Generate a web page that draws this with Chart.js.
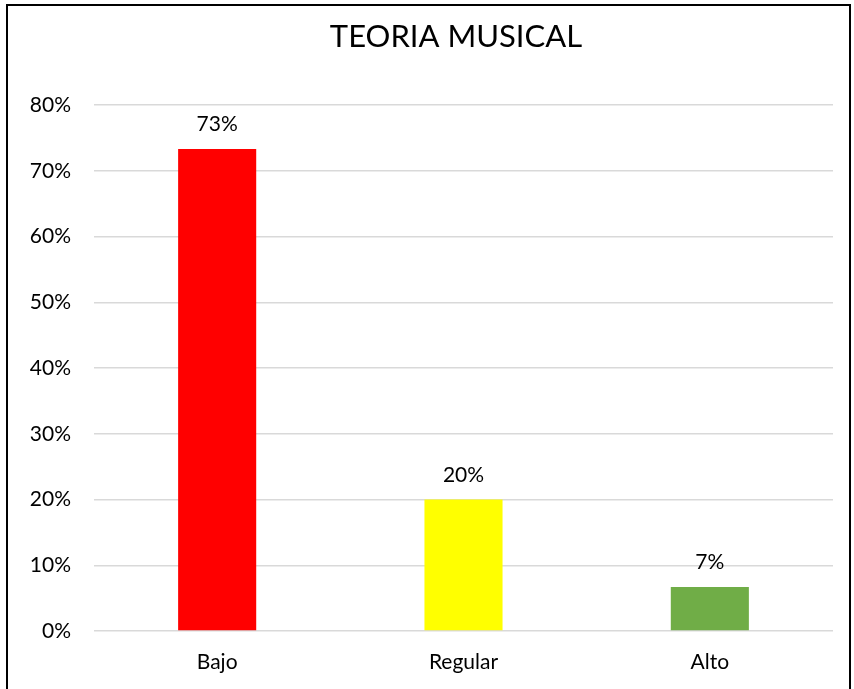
<!DOCTYPE html>
<html>
<head>
<meta charset="utf-8">
<script src="https://cdn.jsdelivr.net/npm/chart.js@4.4.1/dist/chart.umd.min.js"></script>
<style>
  html, body { margin: 0; padding: 0; background: #fff; }
  #wrap { width: 854px; height: 689px; position: relative; }
</style>
</head>
<body>
<div id="wrap"><canvas id="myChart"></canvas></div>
<script>
// data
var chartTitle = "TEORIA MUSICAL";
var categories = ["Bajo", "Regular", "Alto"];
var values = [0.733, 0.20, 0.067];
var barColors = ["#FF0000", "#FFFF00", "#70AD47"];
var yTicks = [0, 0.1, 0.2, 0.3, 0.4, 0.5, 0.6, 0.7, 0.8];

var FONT = "Lato, 'Liberation Sans', sans-serif";

// title, centred a bit right of the canvas middle like the original
var titlePlugin = {
    id: "titlePlugin",
    afterDraw: function(chart) {
        var ctx = chart.ctx;
        ctx.save();
        ctx.font = "31px " + FONT;
        ctx.fillStyle = "#000";
        ctx.textAlign = "center";
        ctx.textBaseline = "alphabetic";
        ctx.fillText(chartTitle, 456, 47);
        ctx.restore();
    }
};

// value labels above each bar
var valueLabels = {
    id: "valueLabels",
    afterDatasetsDraw: function(chart) {
        var ctx = chart.ctx;
        var meta = chart.getDatasetMeta(0);
        ctx.save();
        ctx.font = "21px " + FONT;
        ctx.fillStyle = "#000";
        ctx.textAlign = "center";
        ctx.textBaseline = "alphabetic";
        meta.data.forEach(function(bar, i) {
            ctx.fillText(Math.round(values[i] * 100) + "%", bar.x, bar.y - 18);
        });
        ctx.restore();
    }
};

// outer frame (bottom edge is cut off in the reference)
var frame = {
    id: "frame",
    afterDraw: function(chart) {
        var ctx = chart.ctx;
        ctx.save();
        ctx.strokeStyle = "#000";
        ctx.lineWidth = 2;
        ctx.beginPath();
        ctx.moveTo(7, chart.height);
        ctx.lineTo(7, 5);
        ctx.lineTo(850, 5);
        ctx.lineTo(850, chart.height);
        ctx.stroke();
        ctx.restore();
    }
};

var canvas = document.getElementById("myChart");
var ctx = canvas.getContext("2d");

var myChart = new Chart(ctx, {
    type: "bar",
    data: {
        labels: categories,
        datasets: [{
            data: values,
            backgroundColor: barColors,
            borderWidth: 0,
            categoryPercentage: 1,
            barPercentage: 0.317
        }]
    },
    options: {
        responsive: true,
        maintainAspectRatio: false,
        animation: false,
        layout: { padding: { left: 0, right: 21, top: 105, bottom: 14 } },
        plugins: {
            legend: { display: false },
            tooltip: { enabled: false },
            title: { display: false }
        },
        scales: {
            x: {
                afterFit: function(scale) { scale.height = 44; },
                grid: { display: false, drawTicks: false },
                border: { display: false },
                ticks: { color: "#000", padding: 19, font: { family: FONT, size: 21 } }
            },
            y: {
                min: 0,
                max: 0.8,
                afterFit: function(scale) { scale.width = 94; },
                afterBuildTicks: function(scale) {
                    scale.ticks = yTicks.map(function(v) { return { value: v }; });
                },
                grid: { color: "#D9D9D9", lineWidth: 1.5, drawTicks: false },
                border: { display: false },
                ticks: {
                    color: "#000",
                    padding: 23,
                    font: { family: FONT, size: 21 },
                    callback: function(v) { return Math.round(v * 100) + "%"; }
                }
            }
        }
    },
    plugins: [titlePlugin, valueLabels, frame]
});
</script>
</body>
</html>
